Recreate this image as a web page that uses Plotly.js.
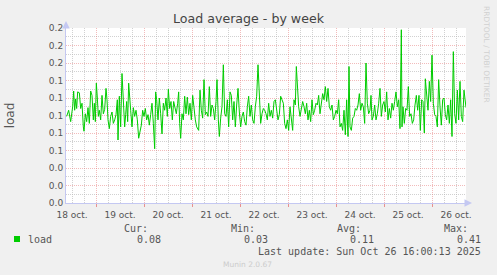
<!DOCTYPE html>
<html><head><meta charset="utf-8">
<script src="https://cdn.plot.ly/plotly-3.0.1.min.js"></script>
<style>html,body{margin:0;padding:0;background:#f0f0f0;}</style>
</head><body><div id="chart" style="width:497px;height:275px;"></div>
<script>
// ---- data ----
const rangeStart = '2025-10-18 09:00:00';
const rangeEnd = '2025-10-26 17:00:00';
const hoursFromStart = [
 0.33,1.33,2.33,3.33,3.83,4.33,4.83,5.33,5.83,6.67,7.33,8.0,8.67,9.0,9.67,10.33,11.0,11.67,12.33,13.0,13.67,14.17,14.67,15.17,15.67,16.17,16.67,17.33,18.0,18.67,19.33,20.0,20.5,21.0,21.67,22.33,23.0,23.67,24.33,25.0,25.67,26.0,26.67,27.33,28.0,28.67,29.33,29.83,30.33,30.83,31.33,
 32.33,33.0,33.67,34.33,35.0,35.67,36.33,37.0,37.67,38.33,39.0,39.67,40.33,41.0,41.67,42.33,43.0,43.67,44.33,44.83,45.33,46.0,46.67,47.33,48.0,48.67,49.33,50.0,50.67,51.17,51.83,52.5,53.17,53.83,54.5,55.17,55.83,56.33,56.83,57.33,58.0,58.67,59.33,60.0,60.67,61.33,62.0,62.67,63.33,64.0,64.67,65.33,
 66.33,67.0,67.67,68.33,69.0,69.67,70.33,71.0,71.67,72.33,73.0,73.67,74.33,75.0,75.5,76.17,76.67,77.33,78.0,78.67,79.33,80.0,80.67,81.33,82.0,82.67,83.33,84.0,84.67,85.33,86.0,86.67,87.33,88.0,88.67,89.33,90.0,90.67,91.33,92.0,92.67,93.33,94.0,94.67,95.33,96.0,96.67,97.33,98.0,98.67,99.33,
 100.0,100.67,101.33,102.0,102.67,103.33,104.0,104.67,105.33,106.0,106.67,107.33,108.0,108.67,109.33,110.0,110.67,111.33,112.0,112.67,113.33,114.0,114.67,115.17,115.67,116.33,117.0,117.67,118.33,119.0,119.67,120.33,121.0,121.67,122.33,123.0,123.67,124.33,125.0,125.67,126.33,127.0,127.67,128.33,129.0,129.67,130.33,131.0,131.67,132.33,133.0,133.67,
 134.33,135.0,135.67,136.33,137.0,137.67,138.33,139.0,139.67,140.33,141.0,141.5,142.0,142.67,143.33,144.0,144.67,145.33,146.0,146.67,147.33,148.0,148.67,149.33,150.0,150.67,151.33,152.0,152.5,153.0,153.67,154.33,155.0,155.67,156.33,157.0,157.67,158.33,159.0,159.67,160.33,161.0,161.67,162.33,163.0,163.67,164.33,165.0,165.67,166.33,167.0,167.67,
 168.0,168.5,169.17,169.83,170.5,171.17,171.83,172.5,173.17,173.83,174.5,175.17,175.83,176.5,177.17,177.83,178.5,179.17,179.67,180.33,181.0,181.67,182.33,183.0,183.67,184.33,185.0,185.67,186.33,187.0,187.67,188.33,189.0,189.67,190.33,191.0,191.67,192.33,193.0,193.67,194.33,195.0,195.67,196.33,197.0,197.67,198.33,199.0,199.67,200.0
];
const loadValues = [
 0.099,0.106,0.093,0.110,0.128,0.106,0.119,0.108,0.127,0.126,0.108,0.114,0.087,0.082,0.102,0.093,0.109,0.091,0.128,0.123,0.095,0.114,0.093,0.137,0.120,0.099,0.106,0.095,0.123,0.102,0.107,0.131,0.118,0.095,0.085,0.099,0.104,0.091,0.095,0.101,0.118,0.072,0.122,0.087,0.148,0.114,0.087,0.101,0.116,0.093,0.137,
 0.106,0.087,0.109,0.099,0.106,0.095,0.074,0.080,0.089,0.106,0.099,0.108,0.095,0.101,0.089,0.101,0.114,0.091,0.062,0.127,0.118,0.095,0.120,0.102,0.079,0.114,0.106,0.120,0.099,0.130,0.108,0.116,0.095,0.116,0.108,0.102,0.114,0.127,0.091,0.074,0.102,0.095,0.122,0.102,0.121,0.101,0.114,0.095,0.123,0.106,0.095,0.087,
 0.083,0.129,0.106,0.097,0.141,0.101,0.104,0.099,0.133,0.099,0.112,0.108,0.095,0.116,0.141,0.095,0.076,0.097,0.110,0.158,0.102,0.099,0.118,0.087,0.127,0.123,0.095,0.116,0.087,0.112,0.131,0.104,0.087,0.099,0.104,0.093,0.089,0.110,0.122,0.099,0.112,0.095,0.091,0.110,0.122,0.158,0.114,0.091,0.102,0.108,0.106,
 0.102,0.095,0.114,0.099,0.106,0.097,0.116,0.118,0.108,0.095,0.101,0.122,0.118,0.114,0.091,0.085,0.095,0.083,0.110,0.099,0.083,0.118,0.112,0.156,0.127,0.110,0.099,0.106,0.116,0.110,0.102,0.114,0.095,0.106,0.093,0.118,0.101,0.106,0.114,0.112,0.123,0.102,0.118,0.125,0.118,0.133,0.116,0.131,0.110,0.106,0.112,0.095,
 0.099,0.106,0.102,0.118,0.087,0.091,0.083,0.106,0.078,0.118,0.076,0.156,0.087,0.083,0.097,0.099,0.108,0.106,0.112,0.125,0.106,0.114,0.110,0.091,0.160,0.114,0.102,0.106,0.123,0.095,0.099,0.112,0.095,0.102,0.114,0.131,0.099,0.112,0.116,0.104,0.127,0.095,0.108,0.097,0.114,0.106,0.116,0.127,0.110,0.118,0.085,0.198,
 0.087,0.110,0.091,0.108,0.106,0.133,0.099,0.102,0.091,0.095,0.112,0.123,0.106,0.123,0.083,0.118,0.116,0.080,0.142,0.118,0.106,0.139,0.116,0.169,0.114,0.101,0.099,0.087,0.141,0.110,0.089,0.118,0.120,0.101,0.095,0.112,0.091,0.118,0.076,0.173,0.102,0.091,0.129,0.095,0.139,0.099,0.093,0.129,0.112,0.109
];
const dayDates = ['2025-10-18','2025-10-19','2025-10-20','2025-10-21','2025-10-22','2025-10-23','2025-10-24','2025-10-25','2025-10-26'];
const dayLabels = ['18 oct.','19 oct.','20 oct.','21 oct.','22 oct.','23 oct.','24 oct.','25 oct.','26 oct.'];
const statLabels = ['Cur:','Min:','Avg:','Max:'];
const statValues = ['0.08','0.03','0.11','0.41'];
const seriesName = 'load';
const lastUpdate = 'Last update: Sun Oct 26 16:00:13 2025';

// ---- build ----
const startMs = Date.parse(rangeStart.replace(' ','T') + 'Z');
const fmt = ms => new Date(ms).toISOString().replace('T',' ').slice(0,19);
const xTimes = hoursFromStart.map(h => fmt(startMs + Math.round(h*3600000)));
const dayAlias = {};
dayDates.forEach((d,i)=>{ dayAlias[d] = dayLabels[i]; });

const gridRed = 'rgba(230,120,120,0.5)';
const gridGrey = 'rgba(185,185,185,0.65)';
const axisBlue = '#c4c8f2';
const green = '#00cc00';
const mono = 'DejaVu Sans Mono';
const txt = '#555555';

const trace = {x:xTimes, y:loadValues, type:'scatter', mode:'lines', name:seriesName,
  line:{color:green, width:1}, hoverinfo:'skip'};

const px = v => (v-66)/400, py = v => (203-v)/175;
const statRightLabel = [150, 256.7, 363, 470];
const statRightValue = [163, 269.5, 376, 483];
const annotations = [];
statLabels.forEach((s,i)=>{
  annotations.push({text:s, xref:'paper', yref:'paper', x:px(statRightLabel[i]), y:py(228), xanchor:'right', yanchor:'middle', showarrow:false, font:{family:mono,size:10,color:txt}});
  annotations.push({text:statValues[i], xref:'paper', yref:'paper', x:px(statRightValue[i]), y:py(239), xanchor:'right', yanchor:'middle', showarrow:false, font:{family:mono,size:10,color:txt}});
});
annotations.push({text:seriesName, xref:'paper', yref:'paper', x:px(26), y:py(239), xanchor:'left', yanchor:'middle', showarrow:false, font:{family:mono,size:10,color:txt}});
annotations.push({text:lastUpdate, xref:'paper', yref:'paper', x:px(483), y:py(251), xanchor:'right', yanchor:'middle', showarrow:false, font:{family:mono,size:10,color:txt}});
annotations.push({text:'Munin 2.0.67', xref:'paper', yref:'paper', x:px(247.5), y:py(264), xanchor:'center', yanchor:'middle', showarrow:false, font:{family:'DejaVu Sans',size:7.5,color:'#cccccc'}});
annotations.push({text:'RRDTOOL / TOBI OETIKER', xref:'paper', yref:'paper', x:px(487), y:py(54), xanchor:'center', yanchor:'middle', textangle:90, showarrow:false, font:{family:'DejaVu Sans',size:7.5,color:'#d0d0d0'}});
// axis arrows
annotations.push({text:'', xref:'paper', yref:'paper', x:px(472), y:0, ax:-7, ay:0, showarrow:true, arrowhead:2, arrowsize:1, arrowwidth:1.5, arrowcolor:axisBlue});
annotations.push({text:'', xref:'paper', yref:'paper', x:0, y:py(21), ax:0, ay:7, showarrow:true, arrowhead:2, arrowsize:1, arrowwidth:1.5, arrowcolor:axisBlue});

const layout = {
  width:497, height:275,
  margin:{l:66, r:31, t:28, b:72, pad:0},
  paper_bgcolor:'#f0f0f0', plot_bgcolor:'#ffffff',
  showlegend:false,
  font:{family:'DejaVu Sans', size:9, color:txt},
  title:{text:'Load average - by week', font:{family:'DejaVu Sans', size:12.6, color:'#444444'},
    x:0.5, xref:'container', xanchor:'center', y:1-19/275, yref:'container', yanchor:'middle'},
  xaxis:{type:'date', range:[rangeStart, rangeEnd], tickmode:'linear', tick0:dayDates[0], dtick:86400000,
    tickformat:'%Y-%m-%d', labelalias:dayAlias, ticklabelmode:'period',
    tickfont:{family:'DejaVu Sans', size:9, color:txt},
    ticks:'outside', ticklen:3, tickcolor:'#e89090', tickwidth:1,
    showgrid:true, gridcolor:gridRed, griddash:'1px,1px', gridwidth:1,
    minor:{tickmode:'linear', tick0:dayDates[0], dtick:21600000, showgrid:true, gridcolor:gridGrey, griddash:'1px,1px', ticks:''},
    showline:true, linecolor:axisBlue, linewidth:1, zeroline:false, fixedrange:true},
  yaxis:{range:[0,0.2], tickmode:'linear', tick0:0, dtick:0.02, tickformat:'.1f',
    showgrid:true, gridcolor:gridRed, griddash:'1px,1px', gridwidth:1,
    minor:{tickmode:'linear', tick0:0, dtick:0.01, showgrid:true, gridcolor:gridGrey, griddash:'1px,1px', ticks:''},
    showline:true, linecolor:axisBlue, linewidth:1, zeroline:false, ticks:'', fixedrange:true,
    tickfont:{family:'DejaVu Sans', size:9, color:txt},
    title:{text:'load', font:{family:'DejaVu Sans', size:12, color:txt}, standoff:31}},
  shapes:[{type:'rect', xref:'paper', yref:'paper', x0:px(14), x1:px(20), y0:py(242), y1:py(236), fillcolor:green, line:{width:0}}],
  annotations:annotations
};
Plotly.newPlot('chart', [trace], layout, {staticPlot:true, displayModeBar:false});
</script></body></html>
